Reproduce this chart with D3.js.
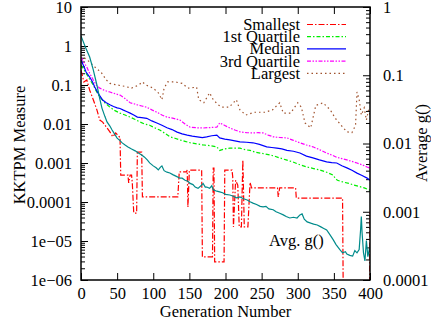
<!DOCTYPE html>
<html>
<head>
<meta charset="UTF-8">
<title>KKTPM Measure</title>
<style>
  body { margin: 0; background: #fff; }
  text { font-family: "Liberation Serif", "DejaVu Serif", serif; font-size: 16.5px; fill: #000; }
</style>
</head>
<body>
<script src="https://cdn.jsdelivr.net/npm/d3@7"></script>
<script>
// data: [generation, value]
var smallest = [[0,0.24],[4,0.12],[8,0.135],[12,0.074],[17,0.042],[22,0.023],[26,0.0126],[30,0.0112],[36,0.0079],[40,0.0063],[44,0.0047],[48,0.0059],[53,0.0047],[54,0.0047],[55,0.00049],[65,0.00049],[66,0.00031],[68,0.00049],[70,0.00049],[71,0.00031],[73,0.000052],[77,0.000052],[78,0.0019],[84,0.0019],[85,0.000135],[134,0.000135],[136,0.00059],[146,0.00059],[147,0.00066],[148,0.000074],[150,0.00066],[167,0.00066],[168,0.0000039],[182,0.0000039],[183,0.00074],[184,0.00074],[185,0.0000029],[198,0.0000029],[199,0.00066],[209,0.00066],[210,0.00044],[211,0.000023],[214,0.00036],[217,0.00027],[219,0.000023],[222,0.000023],[224,0.0012],[226,0.000023],[231,0.000023],[234,0.00032],[236,0.00023],[272,0.00023],[273,0.000135],[275,0.00023],[297,0.00023],[298,0.000126],[362,0.000126],[364,1e-9],[399,1e-9],[400,0.000055]];
var quartile1 = [[0,0.326],[4,0.25],[7,0.2],[12,0.14],[17,0.1],[21,0.07],[26,0.049],[33,0.035],[40,0.027],[47,0.022],[54,0.019],[61,0.017],[68,0.015],[75,0.013],[82,0.0112],[88,0.01],[95,0.0093],[102,0.008],[109,0.007],[116,0.0058],[123,0.0047],[130,0.0043],[137,0.0039],[144,0.0036],[151,0.0033],[160,0.0031],[169,0.0029],[178,0.0028],[188,0.0026],[192,0.0021],[199,0.0023],[206,0.0024],[213,0.0024],[220,0.0024],[227,0.0022],[234,0.0021],[241,0.0019],[248,0.0018],[255,0.0017],[262,0.0016],[268,0.0015],[275,0.00135],[284,0.0012],[293,0.00107],[303,0.0009],[313,0.00079],[322,0.00072],[331,0.00066],[340,0.00058],[349,0.00049],[352,0.0004],[355,0.00036],[364,0.00032],[371,0.0003],[378,0.00027],[385,0.00025],[392,0.00023],[400,0.0002]];
var median = [[0,0.437],[4,0.3],[7,0.215],[12,0.16],[16,0.12],[19,0.089],[24,0.06],[30,0.041],[35,0.035],[40,0.031],[45,0.028],[50,0.026],[54,0.025],[58,0.023],[63,0.021],[68,0.019],[73,0.017],[78,0.015],[84,0.0145],[91,0.014],[98,0.012],[105,0.0106],[112,0.0093],[119,0.008],[126,0.0072],[133,0.0062],[140,0.0056],[147,0.0052],[154,0.0049],[161,0.0047],[168,0.0045],[174,0.0047],[181,0.005],[188,0.0052],[192,0.0044],[199,0.0041],[206,0.0039],[213,0.0037],[220,0.0035],[229,0.0034],[238,0.0033],[247,0.003],[257,0.0026],[264,0.0025],[271,0.0024],[278,0.0023],[285,0.0021],[294,0.002],[303,0.0018],[312,0.0015],[321,0.00135],[330,0.0012],[340,0.00107],[347,0.00102],[354,0.001],[361,0.00085],[368,0.00075],[375,0.00065],[382,0.00055],[389,0.00048],[396,0.00041],[400,0.00036]];
var quartile3 = [[0,0.52],[4,0.38],[8,0.29],[12,0.2],[17,0.135],[21,0.1],[26,0.083],[33,0.072],[40,0.066],[47,0.06],[54,0.055],[61,0.045],[68,0.035],[73,0.033],[78,0.031],[84,0.029],[91,0.027],[98,0.023],[105,0.02],[112,0.017],[119,0.015],[128,0.014],[137,0.0126],[144,0.01],[151,0.0083],[160,0.008],[169,0.0079],[178,0.0081],[188,0.0083],[192,0.0107],[199,0.0092],[206,0.0079],[213,0.007],[220,0.0063],[229,0.006],[238,0.0059],[245,0.006],[252,0.0059],[259,0.0052],[266,0.0047],[275,0.0045],[285,0.0044],[294,0.0038],[303,0.0033],[312,0.0029],[321,0.0026],[330,0.0022],[340,0.0018],[347,0.0016],[354,0.0014],[361,0.0013],[368,0.0012],[375,0.0011],[382,0.001],[389,0.0009],[396,0.00079],[400,0.00074]];
var largest = [[0,0.59],[5,0.49],[12,0.39],[20,0.28],[28,0.21],[35,0.135],[40,0.11],[50,0.1],[60,0.093],[70,0.083],[80,0.1],[85,0.12],[90,0.1],[100,0.083],[107,0.063],[112,0.042],[115,0.083],[120,0.12],[130,0.12],[140,0.11],[148,0.083],[160,0.088],[163,0.042],[170,0.035],[178,0.063],[183,0.042],[190,0.031],[195,0.027],[205,0.027],[215,0.042],[220,0.023],[228,0.017],[240,0.02],[255,0.02],[265,0.023],[275,0.035],[280,0.019],[290,0.019],[300,0.035],[305,0.027],[310,0.0107],[318,0.008],[325,0.03],[335,0.035],[345,0.023],[352,0.014],[360,0.0093],[368,0.0063],[375,0.006],[380,0.0093],[382,0.066],[385,0.042],[388,0.017],[392,0.026],[395,0.0126],[398,0.023],[400,0.017]];
// average g() goes on the right axis
var avgG = [[0,0.376],[6,0.26],[12,0.185],[17,0.12],[22,0.072],[26,0.045],[29,0.033],[33,0.025],[36,0.0207],[40,0.018],[43,0.0158],[47,0.0135],[50,0.012],[54,0.011],[57,0.0102],[61,0.0095],[65,0.0089],[70,0.0083],[75,0.0078],[80,0.0072],[84,0.0068],[88,0.0063],[92,0.0057],[95,0.0052],[100,0.0047],[104,0.0044],[107,0.0041],[110,0.0045],[112,0.0047],[115,0.004],[119,0.0038],[123,0.0037],[127,0.0035],[132,0.0033],[137,0.0031],[140,0.0031],[144,0.0029],[148,0.0028],[151,0.0026],[155,0.0025],[158,0.0023],[162,0.0022],[166,0.0024],[169,0.0026],[172,0.0023],[174,0.0023],[178,0.0022],[181,0.0024],[183,0.0021],[188,0.002],[192,0.00195],[196,0.0019],[200,0.0018],[206,0.00176],[210,0.0017],[215,0.0016],[220,0.00165],[225,0.00155],[230,0.00149],[234,0.0014],[238,0.00134],[243,0.00128],[248,0.0012],[252,0.00118],[256,0.0012],[260,0.0011],[266,0.00107],[270,0.001],[275,0.00095],[280,0.0009],[284,0.00085],[289,0.00081],[294,0.00083],[299,0.00081],[303,0.0009],[306,0.00093],[309,0.00078],[313,0.00071],[318,0.00068],[322,0.00066],[327,0.00064],[332,0.0006],[336,0.00057],[340,0.00054],[344,0.00047],[349,0.00039],[353,0.00033],[358,0.00028],[362,0.00025],[366,0.00026],[368,0.00024],[372,0.00023],[376,0.000224],[379,0.00027],[382,0.00025],[385,0.00028],[387,0.00055],[388,0.00085],[389,0.0005],[391,0.00025],[393,0.00019],[395,0.00038],[397,0.00022],[399,0.00028],[400,0.0003]];

var seriesNames = ["Smallest", "1st Quartile", "Median", "3rd Quartile", "Largest"];
var xTicks = [0, 50, 100, 150, 200, 250, 300, 350, 400];
var yTicks = [10, 1, 0.1, 0.01, 0.001, 0.0001, 1e-5, 1e-6];
var yTickLabels = ["10", "1", "0.1", "0.01", "0.001", "0.0001", "1e\u221205", "1e\u221206"];
var y2Ticks = [1, 0.1, 0.01, 0.001, 0.0001];
var y2TickLabels = ["1", "0.1", "0.01", "0.001", "0.0001"];

// canvas
var width = 431, height = 326;
var pLeft = 81, pRight = 370, pTop = 7, pBottom = 280;
var svg = d3.select("body").append("svg")
    .attr("width", width)
    .attr("height", height);

var x = d3.scaleLinear().domain([0, 400]).range([pLeft, pRight]);
var y = d3.scaleLog().domain([1e-6, 10]).range([pBottom, pTop]);
var y2 = d3.scaleLog().domain([1e-4, 1]).range([pBottom, pTop]);

// minor log ticks 2..9 per decade
function minors(lo, hi) {
  var out = [];
  for (var e = Math.round(Math.log10(lo)); e < Math.round(Math.log10(hi)); e++)
    for (var k = 2; k <= 9; k++) out.push(k * Math.pow(10, e));
  return out;
}

svg.append("clipPath").attr("id", "plot")
  .append("rect").attr("x", pLeft).attr("y", pTop)
  .attr("width", pRight - pLeft).attr("height", pBottom - pTop);

// axes, ticks pointing inward like gnuplot
svg.append("g").attr("transform", "translate(" + pLeft + ",0)")
  .call(d3.axisLeft(y).tickValues(minors(1e-6, 10)).tickSize(-4).tickFormat(""));
svg.append("g").attr("transform", "translate(" + pLeft + ",0)")
  .call(d3.axisLeft(y).tickValues(yTicks).tickSize(-7).tickPadding(9)
    .tickFormat(function (d, i) { return yTickLabels[i]; }));

svg.append("g").attr("transform", "translate(" + pRight + ",0)")
  .call(d3.axisRight(y2).tickValues(minors(1e-4, 1)).tickSize(-4).tickFormat(""));
svg.append("g").attr("transform", "translate(" + pRight + ",0)")
  .call(d3.axisRight(y2).tickValues(y2Ticks).tickSize(-7).tickPadding(13)
    .tickFormat(function (d, i) { return y2TickLabels[i]; }));

svg.append("g").attr("transform", "translate(0," + pBottom + ")")
  .call(d3.axisBottom(x).tickValues(xTicks).tickSize(-7).tickPadding(7).tickFormat(d3.format("d")));
svg.append("g").attr("transform", "translate(0," + pTop + ")")
  .call(d3.axisTop(x).tickValues(xTicks).tickSize(-7).tickFormat(""));

svg.selectAll(".domain").remove();
svg.selectAll(".tick line").attr("stroke", "#000").attr("stroke-width", 1);
svg.selectAll(".tick text").attr("font-size", 17)
  .attr("font-family", "Liberation Serif, serif").attr("fill", "#000");

// lines
var line = d3.line().x(function (d) { return x(d[0]); }).y(function (d) { return y(d[1]); });
var line2 = d3.line().x(function (d) { return x(d[0]); }).y(function (d) { return y2(d[1]); });

var styles = [
  { data: smallest, color: "#ff0000", dash: "6,2,1.5,2" },
  { data: quartile1, color: "#00ee00", dash: "4,2,1.5,2" },
  { data: median, color: "#0000ff", dash: null },
  { data: quartile3, color: "#ff00ff", dash: "4,1.5,1.5,1.5,1.5,1.5" },
  { data: largest, color: "#a0522d", dash: "1.5,3" }
];

var plot = svg.append("g").attr("clip-path", "url(#plot)");
styles.forEach(function (s) {
  plot.append("path")
    .attr("d", line(s.data))
    .attr("fill", "none")
    .attr("stroke", s.color)
    .attr("stroke-width", 1.2)
    .attr("stroke-dasharray", s.dash);
});
plot.append("path")
  .attr("d", line2(avgG))
  .attr("fill", "none")
  .attr("stroke", "#008b8b")
  .attr("stroke-width", 1.2);

// border
svg.append("rect")
  .attr("x", pLeft).attr("y", pTop)
  .attr("width", pRight - pLeft).attr("height", pBottom - pTop)
  .attr("fill", "none").attr("stroke", "#000").attr("stroke-width", 1.5);

// legend
seriesNames.forEach(function (name, i) {
  var ly = 24.5 + i * 12.2;
  svg.append("text").attr("x", 300).attr("y", ly + 5.5)
    .attr("text-anchor", "end").attr("font-size", 16).text(name);
  svg.append("line")
    .attr("x1", 307).attr("x2", 346).attr("y1", ly).attr("y2", ly)
    .attr("stroke", styles[i].color).attr("stroke-width", 1.2)
    .attr("stroke-dasharray", styles[i].dash);
});

svg.append("text").attr("x", 269).attr("y", 246).attr("font-size", 16).text("Avg. g()");

// axis titles
svg.append("text").attr("x", x(200)).attr("y", 317)
  .attr("text-anchor", "middle").text("Generation Number");
svg.append("text").attr("transform", "translate(25,145) rotate(-90)")
  .attr("text-anchor", "middle").text("KKTPM Measure");
svg.append("text").attr("transform", "translate(427,143) rotate(-90)")
  .attr("text-anchor", "middle").text("Average g()");
</script>
</body>
</html>
